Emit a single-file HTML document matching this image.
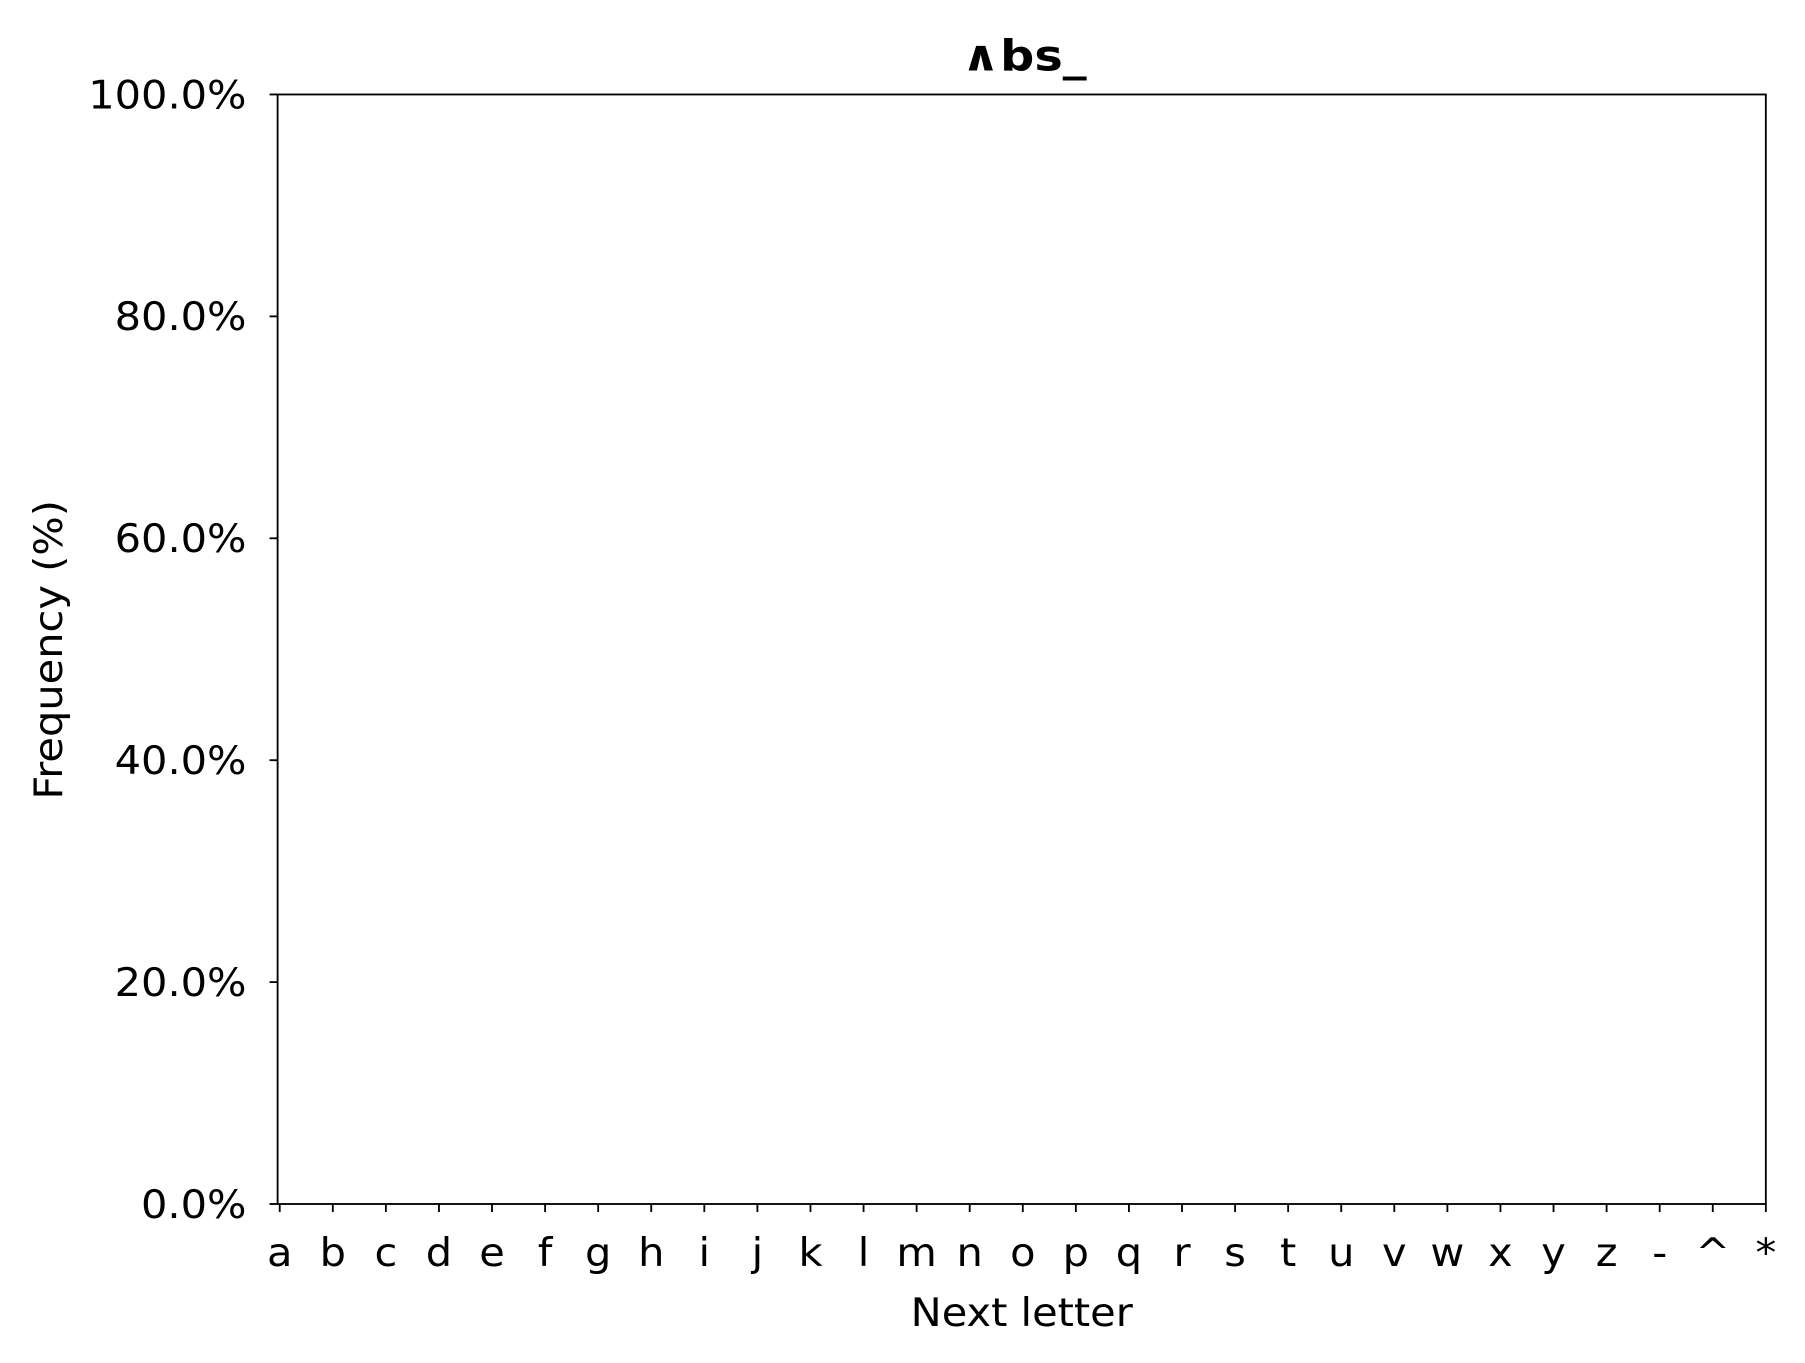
<!DOCTYPE html>
<html><head><meta charset="utf-8"><style>
html,body{margin:0;padding:0;background:#fff;}
svg{display:block;}
text{font-family:"DejaVu Sans","Liberation Sans",sans-serif;fill:#000;}
</style></head><body>
<svg id="chart" width="1805" height="1363" viewBox="0 0 1567 1183" preserveAspectRatio="none" xmlns="http://www.w3.org/2000/svg">
<rect x="0" y="0" width="1567" height="1183" fill="#fff"/>
<text transform="translate(889,61) scale(1.12,1)" font-size="37" font-weight="bold" text-anchor="middle">∧bs_</text>
<g id="bars"></g>
<g id="yaxis"></g>
<g id="xaxis"></g>
<rect x="241" y="82" width="1292" height="963" fill="none" stroke="#000" stroke-width="1.6"/>
<text transform="translate(887,1151) scale(1.06,1)" font-size="34" text-anchor="middle">Next letter</text>
<text transform="translate(54,564) rotate(-90) scale(1.06,1)" font-size="34" text-anchor="middle">Frequency (%)</text>
</svg>
<script>
const categories = ["a","b","c","d","e","f","g","h","i","j","k","l","m","n","o","p","q","r","s","t","u","v","w","x","y","z","-","^","*"];
const frequencies = [0,0,0,0,0,0,0,0,0,0,0,0,0,0,0,0,0,0,0,0,0,0,0,0,0,0,0,0,0];
const yTicks = [0,20,40,60,80,100];
const yTickLabels = ["0.0%","20.0%","40.0%","60.0%","80.0%","100.0%"];

const NS = "http://www.w3.org/2000/svg";
const L = 241, R = 1533, T = 82, B = 1045;
const xMin = -0.04, xMax = categories.length - 1;
function xScale(i){ return L + (i - xMin) / (xMax - xMin) * (R - L); }
function yScale(v){ return B - v / 100 * (B - T); }
function mk(tag, attrs){ const e = document.createElementNS(NS, tag); for (const k in attrs) e.setAttribute(k, attrs[k]); return e; }

const yg = document.getElementById('yaxis');
yTicks.forEach((v, i) => {
  const y = yScale(v);
  const t = mk('line', {x1: L - 7, x2: L, y1: y, y2: y, stroke: '#000', 'stroke-width': 1.6});
  
  
  yg.appendChild(t);
  const lb = mk('text', {transform: 'translate(' + (L - 27) + ',' + (y + 12) + ') scale(1.06,1)', 'font-size': 34, 'text-anchor': 'end'});
  
  
  lb.textContent = yTickLabels[i];
  yg.appendChild(lb);
});

const xg = document.getElementById('xaxis');
const bg = document.getElementById('bars');
categories.forEach((c, i) => {
  const x = xScale(i);
  const t = mk('line', {x1: x, x2: x, y1: B, y2: B + 7, stroke: '#000', 'stroke-width': 1.6});
  
  
  xg.appendChild(t);
  const lb = mk('text', {transform: 'translate(' + x + ',1099) scale(1.06,1)', 'font-size': 34, 'text-anchor': 'middle'});
  
  
  lb.textContent = c;
  xg.appendChild(lb);
  const v = frequencies[i];
  const w = (R - L) / categories.length * 0.8;
  const bar = mk('rect', {x: x - w / 2, y: yScale(v), width: w, height: B - yScale(v), fill: '#1f77b4'});
  
  
  bg.appendChild(bar);
});
</script>
</body></html>
